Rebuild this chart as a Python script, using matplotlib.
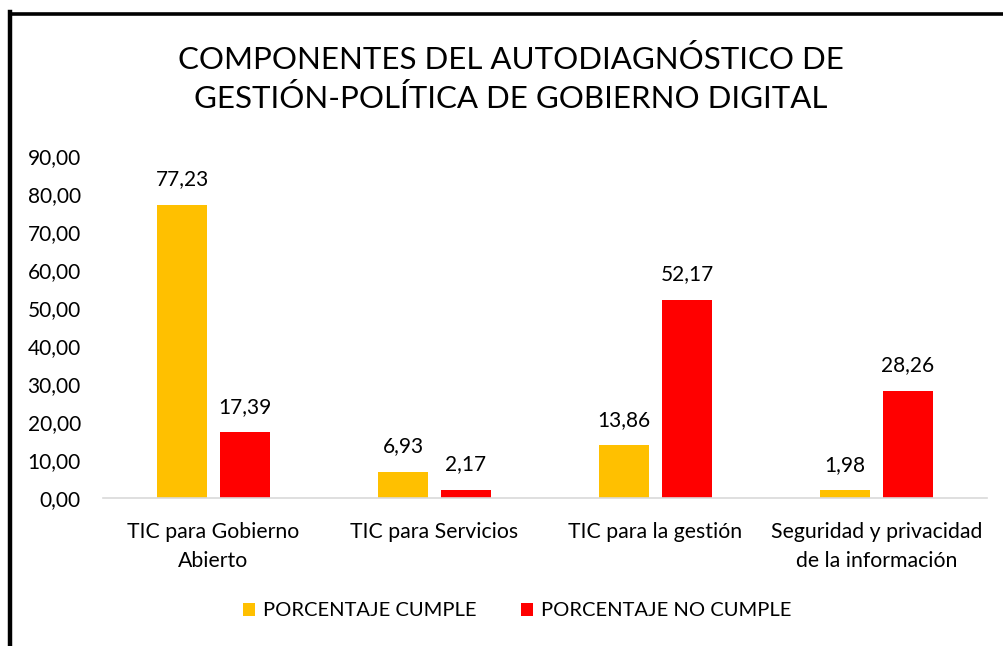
import matplotlib.pyplot as plt
from matplotlib.lines import Line2D
from matplotlib.patches import Patch
import numpy as np

plt.rcParams['font.family'] = ['Lato', 'DejaVu Sans']

categorias = ['TIC para Gobierno\nAbierto', 'TIC para Servicios',
              'TIC para la gestión', 'Seguridad y privacidad\nde la información']
cumple = [77.23, 6.93, 13.86, 1.98]
no_cumple = [17.39, 2.17, 52.17, 28.26]
series = ['PORCENTAJE CUMPLE', 'PORCENTAJE NO CUMPLE']
colores = ['#FFC000', '#FF0000']

W, H = 1004, 646
fs = 15
fig = plt.figure(figsize=(W / 100, H / 100), dpi=100)
ax = fig.add_axes([103 / W, 148 / H, 884 / W, 342 / H])

x = np.arange(len(categorias))
ancho = 0.226
desp = 0.1425
b1 = ax.bar(x - desp, cumple, ancho, color=colores[0], label=series[0])
b2 = ax.bar(x + desp, no_cumple, ancho, color=colores[1], label=series[1])

for barras, vals in ((b1, cumple), (b2, no_cumple)):
    for b, v in zip(barras, vals):
        ax.annotate(f'{v:.2f}'.replace('.', ','),
                    (b.get_x() + b.get_width() / 2, v),
                    xytext=(0, 11), textcoords='offset points',
                    ha='center', va='bottom', fontsize=fs)

ax.set_xlim(-0.5, len(categorias) - 0.5)
ax.set_ylim(0, 90)
ax.set_yticks(np.arange(0, 91, 10))
ax.set_yticklabels([f'{t:.2f}'.replace('.', ',') for t in np.arange(0, 91, 10)])
ax.set_xticks(x)
ax.set_xticklabels(categorias, linespacing=1.6)
ax.tick_params(axis='y', length=0, pad=16, labelsize=fs)
ax.tick_params(axis='x', length=0, pad=17, labelsize=15.3)
for s in ['top', 'right', 'left']:
    ax.spines[s].set_visible(False)
ax.spines['bottom'].set_color('#D9D9D9')
ax.spines['bottom'].set_linewidth(1.2)

fig.text(511 / W, 1 - 79 / H,
         'COMPONENTES DEL AUTODIAGNÓSTICO DE\nGESTIÓN-POLÍTICA DE GOBIERNO DIGITAL',
         ha='center', va='center', fontsize=22.5, linespacing=1.45)

manijas = [Patch(facecolor=c, label=s) for c, s in zip(colores, series)]
fig.legend(handles=manijas, loc='center', bbox_to_anchor=(517 / W, 1 - 611 / H),
           ncol=2, frameon=False, fontsize=14.5, handlelength=0.6, handleheight=0.6,
           handletextpad=0.4, columnspacing=2.2)

# marco negro (solo izquierda y arriba visibles)
fig.add_artist(Line2D([9.5 / W, 9.5 / W], [0, 1 - 12 / H], color='black', lw=3.2,
                      transform=fig.transFigure, solid_capstyle='projecting'))
fig.add_artist(Line2D([9.5 / W, 1], [1 - 14 / H, 1 - 14 / H], color='black', lw=2.6,
                      transform=fig.transFigure))

plt.savefig('out.png', dpi=100, facecolor='white')
